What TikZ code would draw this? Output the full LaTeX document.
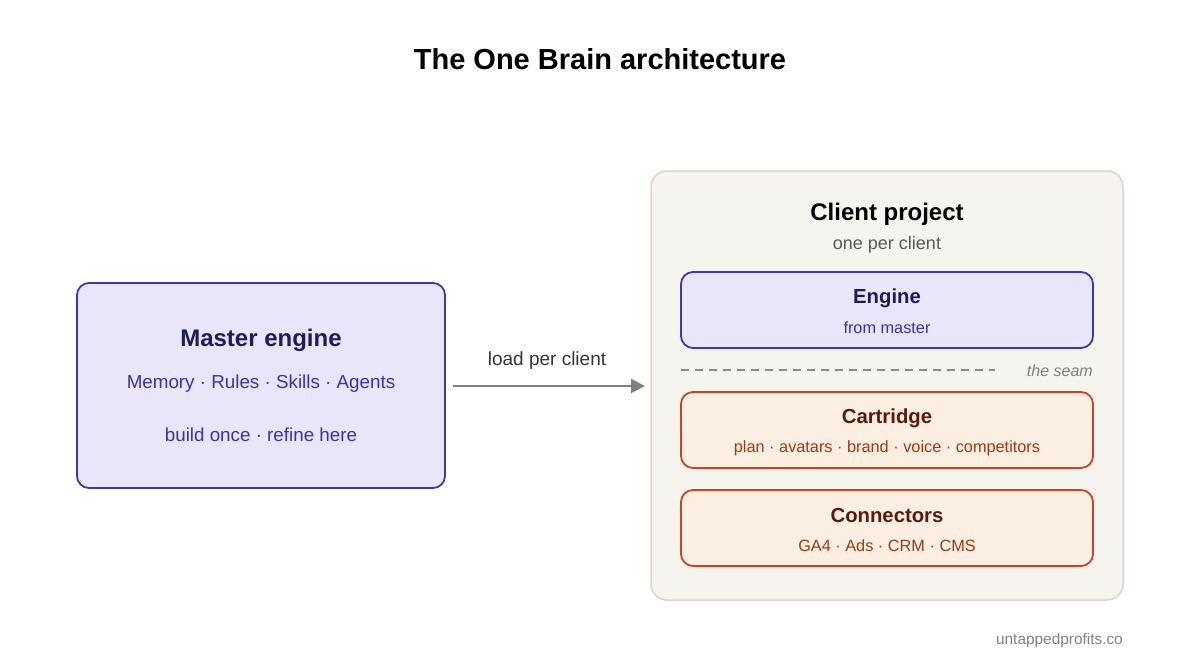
\documentclass[tikz,border=0pt]{standalone}
\usepackage{fontspec}
\setmainfont{Liberation Sans}
\usetikzlibrary{arrows.meta}
\definecolor{pfill}{HTML}{E8E6F8}
\definecolor{pline}{HTML}{3F35B8}
\definecolor{ptitle}{HTML}{1E1B5E}
\definecolor{ptext}{HTML}{3A32A8}
\definecolor{ofill}{HTML}{FBEEE2}
\definecolor{oline}{HTML}{C8451A}
\definecolor{otitle}{HTML}{5A1A0A}
\definecolor{otext}{HTML}{A0380F}
\definecolor{cfill}{HTML}{F6F4EE}
\definecolor{cline}{HTML}{DDD5C5}
\tikzset{
 box/.style={draw, line width=1.8pt, rounded corners=12pt},
 pbox/.style={box, fill=pfill, draw=pline},
 obox/.style={box, fill=ofill, draw=oline},
 t/.style={inner sep=0pt, anchor=center, yshift=-1pt},
}
\newcommand{\fs}[1]{\fontsize{#1}{#1}\selectfont}
\begin{document}
\begin{tikzpicture}[x=1pt,y=-1pt]
\useasboundingbox (0,0) rectangle (1200,669);
\node[t] (title) at (600,58) {\fs{29}\bfseries The One Brain architecture};
\draw[pbox] (77,283) rectangle (445,488);
\node[t,text=ptitle] (mt) at (261,339) {\fs{24}\bfseries Master engine};
\node[t,text=ptext] (m1) at (261,383) {\fs{18.8}Memory · Rules · Skills · Agents};
\node[t,text=ptext] (m2) at (261,434) {\fs{18.8}build once · refine here};
\coordinate (a1) at (453,386);
\coordinate (a2) at (645,386);
\draw[line width=2pt, color=black!50, -{Triangle[length=14pt,width=14pt]}] (a1) -- (a2);
\node[t,text=black!80] (al) at (547,360) {\fs{19}load per client};
\draw[box, fill=cfill, draw=cline, line width=1.5pt, rounded corners=16pt] (651,171) rectangle (1123,600);
\node[t] (ct) at (887,213) {\fs{24}\bfseries Client project};
\node[t,text=black!65] (cs) at (887,244) {\fs{18}one per client};
\draw[pbox] (681,272) rectangle (1093,348);
\node[t,text=ptitle] (et) at (887,297) {\fs{20.3}\bfseries Engine};
\node[t,text=ptext] (es) at (887,327) {\fs{16.3}from master};
\coordinate (s1) at (681,370);
\coordinate (s2) at (995,370);
\draw[line width=1.5pt, color=black!45, dash pattern=on 8pt off 6pt] (s1) -- (s2);
\node[t,anchor=east,text=black!50] (seam) at (1093,370) {\fs{16}\itshape the seam};
\draw[obox] (681,392) rectangle (1093,468);
\node[t,text=otitle] (cat) at (887,417) {\fs{20.3}\bfseries Cartridge};
\node[t,text=otext] (cas) at (887,447) {\fs{16.3}plan · avatars · brand · voice · competitors};
\draw[obox] (681,490) rectangle (1093,566);
\node[t,text=otitle] (cot) at (887,515) {\fs{20.3}\bfseries Connectors};
\node[t,text=otext] (cos) at (887,545) {\fs{16.3}GA4 · Ads · CRM · CMS};
\node[t,anchor=east,text=black!50] (foot) at (1123,640) {\fs{15.4}untappedprofits.co};
\end{tikzpicture}
\end{document}
